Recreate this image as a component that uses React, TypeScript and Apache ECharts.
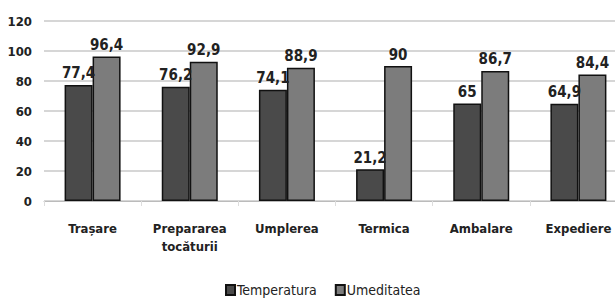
import React, { useEffect, useRef } from "react";
import * as echarts from "echarts";

const categories = ["Trașare", "Prepararea\ntocăturii", "Umplerea", "Termica", "Ambalare", "Expediere"];
const temperatura = [77.4, 76.2, 74.1, 21.2, 65, 64.9];
const umeditatea = [96.4, 92.9, 88.9, 90, 86.7, 84.4];
const yTicks = { min: 0, max: 120, interval: 20 };

const FONT = "'DejaVu Sans Condensed', 'DejaVu Sans', sans-serif";
const fmt = (p: any) => String(p.value).replace(".", ",");

export default function App() {
  const ref = useRef<HTMLDivElement>(null);
  useEffect(() => {
    if (!ref.current) return;
    const chart = echarts.init(ref.current, null, { renderer: "svg" });
    const labelStyle = {
      show: true,
      position: "top" as const,
      distance: 4,
      formatter: fmt,
      fontFamily: FONT,
      fontWeight: "bold" as const,
      fontSize: 15,
      color: "#222",
    };
    chart.setOption({
      animation: false,
      backgroundColor: "#fff",
      grid: {
        left: 44,
        width: 583,
        top: 21,
        height: 180,
        containLabel: false,
        outerBoundsMode: "none",
      },
      legend: {
        data: ["Temperatura", "Umeditatea"],
        bottom: 0,
        left: 220,
        itemWidth: 9,
        itemHeight: 10,
        itemGap: 18,
        icon: "rect",
        textStyle: { fontFamily: FONT, fontSize: 14, color: "#222", padding: [0, 0, 0, -3] },
      },
      xAxis: {
        type: "category",
        data: categories,
        axisLine: { lineStyle: { color: "#bbb", width: 1 } },
        axisTick: { show: true, lineStyle: { color: "#ddd" }, length: 5 },
        axisLabel: {
          interval: 0,
          fontFamily: FONT,
          fontWeight: "bold",
          fontSize: 13,
          color: "#222",
          margin: 18,
          lineHeight: 18,
        },
      },
      yAxis: {
        type: "value",
        min: yTicks.min,
        max: yTicks.max,
        interval: yTicks.interval,
        axisLine: { show: false },
        axisTick: { show: false },
        splitLine: { lineStyle: { color: "#c8c8c8", width: 1.5 } },
        axisLabel: {
          fontFamily: FONT,
          fontWeight: "bold",
          fontSize: 13,
          color: "#222",
          margin: 12,
        },
      },
      series: [
        {
          name: "Temperatura",
          type: "bar",
          data: temperatura,
          barWidth: 28,
          barGap: "0%",
          itemStyle: { color: "#4a4a4a", borderColor: "#111", borderWidth: 1.5 },
          label: labelStyle,
        },
        {
          name: "Umeditatea",
          type: "bar",
          data: umeditatea,
          barWidth: 28,
          barGap: "0%",
          itemStyle: { color: "#7c7c7c", borderColor: "#111", borderWidth: 1.5 },
          label: labelStyle,
        },
      ],
    });
    return () => chart.dispose();
  }, []);
  return (
    <div
      ref={ref}
      style={{ position: "fixed", left: 0, top: 0, width: 615, height: 302, background: "#fff", overflow: "hidden" }}
    />
  );
}
